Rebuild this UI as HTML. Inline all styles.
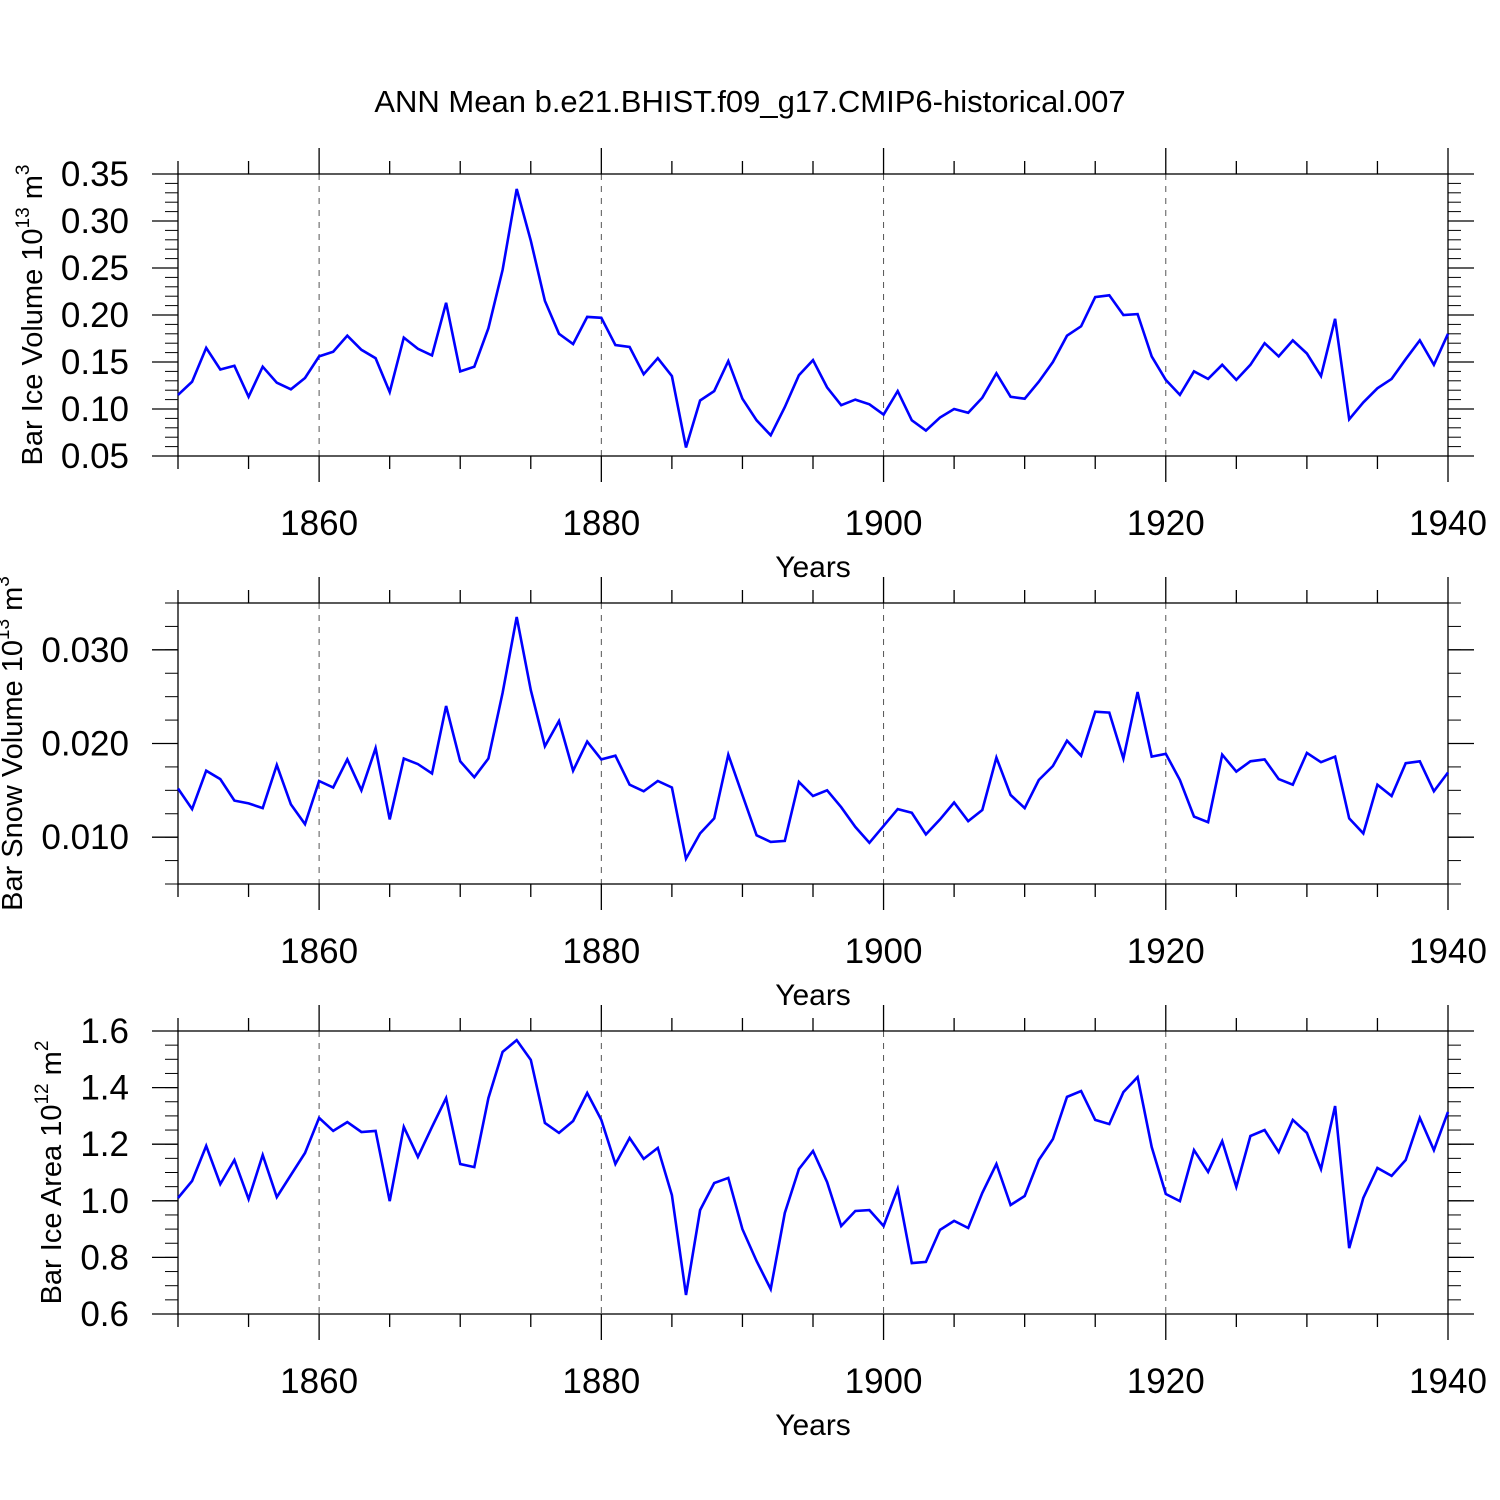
<!DOCTYPE html>
<html><head><meta charset="utf-8"><style>
html,body{margin:0;padding:0;background:#fff}
svg{display:block;font-family:"Liberation Sans",sans-serif}
</style></head><body>
<svg id="chart" width="1500" height="1500" viewBox="0 0 1500 1500" xmlns="http://www.w3.org/2000/svg">
<rect width="1500" height="1500" fill="#fff"/>
<text x="750" y="112" font-size="31" text-anchor="middle">ANN Mean b.e21.BHIST.f09_g17.CMIP6-historical.007</text>
</svg>
<script>
const years = [];
for (let y = 1850; y <= 1940; y++) years.push(y);
const iceVolume = [0.115,0.129,0.165,0.142,0.146,0.113,0.145,0.128,0.121,0.133,0.156,0.161,0.178,0.163,0.154,0.118,0.176,0.164,0.157,0.213,0.140,0.145,0.186,0.248,0.334,0.279,0.215,0.180,0.169,0.198,0.197,0.168,0.166,0.137,0.154,0.135,0.059,0.109,0.119,0.151,0.111,0.088,0.072,0.102,0.136,0.152,0.123,0.104,0.110,0.105,0.094,0.119,0.088,0.077,0.091,0.100,0.096,0.112,0.138,0.113,0.111,0.129,0.150,0.178,0.188,0.219,0.221,0.200,0.201,0.156,0.131,0.115,0.140,0.132,0.147,0.131,0.147,0.170,0.156,0.173,0.159,0.135,0.196,0.089,0.107,0.122,0.132,0.153,0.173,0.147,0.180];
const snowVolume = [0.0152,0.0130,0.0171,0.0162,0.0139,0.0136,0.0131,0.0177,0.0135,0.0114,0.0160,0.0153,0.0183,0.0150,0.0195,0.0119,0.0184,0.0178,0.0168,0.0240,0.0181,0.0164,0.0184,0.0254,0.0335,0.0257,0.0197,0.0224,0.0171,0.0202,0.0183,0.0187,0.0156,0.0149,0.0160,0.0153,0.0077,0.0104,0.0120,0.0188,0.0145,0.0102,0.0095,0.0096,0.0159,0.0144,0.0150,0.0132,0.0111,0.0094,0.0112,0.0130,0.0126,0.0103,0.0119,0.0137,0.0117,0.0129,0.0185,0.0145,0.0131,0.0161,0.0176,0.0203,0.0187,0.0234,0.0233,0.0184,0.0255,0.0186,0.0189,0.0161,0.0122,0.0116,0.0188,0.0170,0.0181,0.0183,0.0162,0.0156,0.0190,0.0180,0.0186,0.0120,0.0104,0.0156,0.0144,0.0179,0.0181,0.0149,0.0169];
const iceArea = [1.010,1.070,1.194,1.059,1.144,1.006,1.162,1.013,1.091,1.169,1.293,1.247,1.278,1.243,1.247,0.999,1.261,1.155,1.261,1.363,1.130,1.119,1.363,1.526,1.568,1.498,1.275,1.240,1.282,1.381,1.286,1.130,1.222,1.148,1.187,1.020,0.667,0.967,1.063,1.081,0.900,0.787,0.688,0.957,1.112,1.176,1.066,0.911,0.964,0.967,0.911,1.042,0.780,0.784,0.897,0.929,0.904,1.028,1.130,0.985,1.017,1.144,1.218,1.367,1.388,1.286,1.271,1.384,1.437,1.190,1.024,0.999,1.179,1.102,1.211,1.049,1.229,1.250,1.172,1.286,1.240,1.112,1.335,0.833,1.010,1.116,1.088,1.144,1.293,1.179,1.314];
const xTickLabels = ["1860","1880","1900","1920","1940"];
const ticks1 = ["0.05","0.10","0.15","0.20","0.25","0.30","0.35"];
const ticks2 = ["0.010","0.020","0.030"];
const ticks3 = ["0.6","0.8","1.0","1.2","1.4","1.6"];

const svg = document.getElementById('chart');
const NS = 'http://www.w3.org/2000/svg';
function mk(tag, attrs, parent) {
  const e = document.createElementNS(NS, tag);
  for (const k in attrs) e.setAttribute(k, attrs[k]);
  (parent || svg).appendChild(e);
  return e;
}
const X0 = 178, X1 = 1448;
const xs = y => X0 + (y - 1850) / 90 * (X1 - X0);

function panel(name, top, bot, ymin, ymax, data, ticks, minorStep, title, sup, unit, titleX) {
  const g = mk('g', {});
  
  
  const ys = v => bot - (v - ymin) / (ymax - ymin) * (bot - top);
  for (const yr of [1860, 1880, 1900, 1920]) {
    const l = mk('line', {x1: xs(yr), x2: xs(yr), y1: top, y2: bot, stroke: '#555', 'stroke-width': 1, 'stroke-dasharray': '6,6'}, g);
    
    
  }
  const fr = mk('rect', {x: X0, y: top, width: X1 - X0, height: bot - top, fill: 'none', stroke: '#000', 'stroke-width': 1.3}, g);
  
  
  for (let yr = 1850; yr <= 1940; yr += 5) {
    const major = yr % 20 === 0;
    const len = major ? 26 : 13;
    const x = xs(yr);
    mk('line', {x1: x, x2: x, y1: top - len, y2: top, stroke: '#000', 'stroke-width': 1.3}, g);
    mk('line', {x1: x, x2: x, y1: bot, y2: bot + len, stroke: '#000', 'stroke-width': 1.3}, g);
  }
  xTickLabels.forEach(s => {
    const t = mk('text', {x: xs(+s), y: bot + 79, 'font-size': 35, 'text-anchor': 'middle'}, g);
    t.textContent = s;
    
    
  });
  const xt = mk('text', {x: 813, y: bot + 121, 'font-size': 30, 'text-anchor': 'middle'}, g);
  xt.textContent = 'Years';
  
  
  const n = Math.round((ymax - ymin) / minorStep);
  for (let i = 0; i <= n; i++) {
    const y = ys(ymin + i * minorStep);
    mk('line', {x1: X0 - 13, x2: X0, y1: y, y2: y, stroke: '#000', 'stroke-width': 1}, g);
    mk('line', {x1: X1, x2: X1 + 13, y1: y, y2: y, stroke: '#000', 'stroke-width': 1}, g);
  }
  ticks.forEach(s => {
    const y = ys(+s);
    mk('line', {x1: X0 - 26, x2: X0, y1: y, y2: y, stroke: '#000', 'stroke-width': 1.3}, g);
    mk('line', {x1: X1, x2: X1 + 26, y1: y, y2: y, stroke: '#000', 'stroke-width': 1.3}, g);
    const t = mk('text', {x: 129, y: y + 12, 'font-size': 35, 'text-anchor': 'end'}, g);
    t.textContent = s;
    
    
  });
  const yt = mk('text', {transform: `translate(${titleX},${(top + bot) / 2}) rotate(-90)`, 'font-size': 29, 'text-anchor': 'middle'}, g);
  
  
  const a = document.createElementNS(NS, 'tspan'); a.textContent = title + ' 10'; yt.appendChild(a);
  const b = document.createElementNS(NS, 'tspan'); b.setAttribute('dy', '-13'); b.setAttribute('font-size', '19'); b.textContent = sup; yt.appendChild(b);
  const c = document.createElementNS(NS, 'tspan'); c.setAttribute('dy', '13'); c.textContent = ' m'; yt.appendChild(c);
  const d = document.createElementNS(NS, 'tspan'); d.setAttribute('dy', '-13'); d.setAttribute('font-size', '19'); d.textContent = unit; yt.appendChild(d);
  const pts = data.map((v, i) => xs(years[i]).toFixed(1) + ',' + ys(v).toFixed(1)).join(' ');
  const pl = mk('polyline', {points: pts, fill: 'none', stroke: '#0000ff', 'stroke-width': 2.6, 'stroke-linejoin': 'miter'}, g);
  
  
}
panel('ice-volume', 174, 456, 0.05, 0.35, iceVolume, ticks1, 0.01, 'Bar Ice Volume', '13', '3', 42);
panel('snow-volume', 603, 884, 0.005, 0.035, snowVolume, ticks2, 0.0025, 'Bar Snow Volume', '13', '3', 22);
panel('ice-area', 1031, 1314, 0.6, 1.6, iceArea, ticks3, 0.05, 'Bar Ice Area', '12', '2', 61);
</script>
</body></html>
